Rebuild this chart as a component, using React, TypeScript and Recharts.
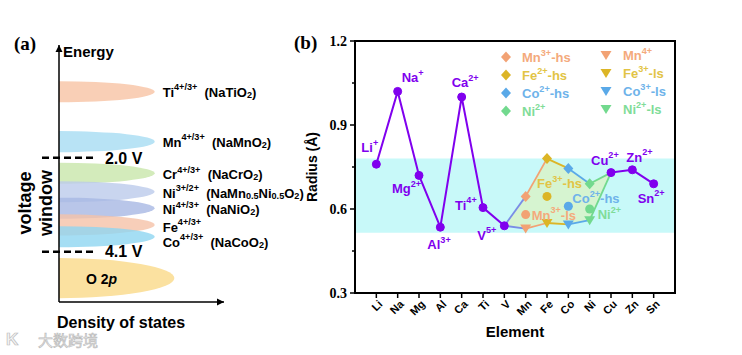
import React from "react";
import {
  Area,
  ComposedChart,
  Line,
  ReferenceArea,
  ReferenceDot,
  ReferenceLine,
  Scatter,
  XAxis,
  YAxis,
} from "recharts";

const FONT = "'Liberation Sans', Arial, Helvetica, sans-serif";
const SERIF = "'Liberation Serif', 'Times New Roman', serif";

// ---------- panel (a): schematic energy levels ----------
const bandLabels = [
  "Ti^{4+/3+}  (NaTiO_{2})",
  "Mn^{4+/3+}  (NaMnO_{2})",
  "Cr^{4+/3+}  (NaCrO_{2})",
  "Ni^{3+/2+}  (NaMn_{0.5}Ni_{0.5}O_{2})",
  "Ni^{4+/3+}  (NaNiO_{2})",
  "Fe^{4+/3+}",
  "Co^{4+/3+}  (NaCoO_{2})",
];
const bandLevels = [8.18, 6.24, 5.01, 4.29, 3.65, 3.0, 2.54];
const bandColors = ["#f7c3a4", "#a6dcf3", "#c8e6aa", "#bccaeb", "#a8b8e3", "#f5c2a8", "#8ed6f1"];
const bandLabelDy = [0, 0, 1, 1, 1, 2, 5];
const o2pLevel = 0.93;
const voltageLevels = [5.61, 1.96];
const voltageLabels = ["2.0 V", "4.1 V"];

// ---------- panel (b): ionic radius ----------
const elements = ["Li", "Na", "Mg", "Al", "Ca", "Ti", "V", "Mn", "Fe", "Co", "Ni", "Cu", "Zn", "Sn"];
const mainRadius = [0.76, 1.02, 0.72, 0.535, 1.0, 0.605, 0.54, null, null, null, null, 0.73, 0.74, 0.69];
const mainLabels = ["Li^{+}", "Na^{+}", "Mg^{2+}", "Al^{3+}", "Ca^{2+}", "Ti^{4+}", "V^{5+}", null, null, null, null, "Cu^{2+}", "Zn^{2+}", "Sn^{2+}"];

const tmElements = ["Mn", "Fe", "Co", "Ni"];
const upperRadius = [0.645, 0.78, 0.745, 0.69];
const upperNames = ["Mn^{3+}-hs", "Fe^{2+}-hs", "Co^{2+}-hs", "Ni^{2+}"];
const lowerRadius = [0.53, 0.55, 0.545, 0.56];
const lowerNames = ["Mn^{4+}", "Fe^{3+}-ls", "Co^{3+}-ls", "Ni^{2+}-ls"];
const midRadius = [0.58, 0.645, 0.61, 0.6];
const midNames = ["Mn^{3+}-ls", "Fe^{3+}-hs", "Co^{2+}-hs", "Ni^{2+}"];

const yTicks = [0.3, 0.45, 0.6, 0.75, 0.9, 1.05, 1.2];
const yMajor = [0.3, 0.6, 0.9, 1.2];
const windowBand = [0.515, 0.78];

const PURPLE = "#8000ee";
const tmColors = ["#f2a274", "#dcb526", "#5aa9e8", "#72d98e"];
const tmText = ["#f4aa7c", "#e2c445", "#6eb3ea", "#80dc98"];
const segColors = ["#7a8de6", ...tmColors];

// label offsets (px) relative to their point
const mainLabelOffsets: Record<string, [number, number]> = {
  Li: [-15, -17], Na: [4, -14], Mg: [-27, 13], Al: [-13, 17], Ca: [-10, -15],
  Ti: [-28, -3], V: [-27, 9], Cu: [-20, -13], Zn: [-6, -13], Sn: [-16, 14],
};
const midLabelOffsets: [number, number][] = [[6, 0], [-10, -13], [4, -8], [8, 5]];

const xOf = (el: string) => elements.indexOf(el) + 1;

// table for the line chart
const rows: any[] = elements.map((el, i) => ({ x: i + 1, main: mainRadius[i] }));
const vNode = { x: xOf("V"), y: mainRadius[6] };
const cuNode = { x: xOf("Cu"), y: mainRadius[11] };
const upperNodes = [vNode, ...tmElements.map((el, k) => ({ x: xOf(el), y: upperRadius[k] })), cuNode];
const lowerNodes = [vNode, ...tmElements.map((el, k) => ({ x: xOf(el), y: lowerRadius[k] })), cuNode];
for (let k = 0; k < upperNodes.length - 1; k++) {
  rows[upperNodes[k].x - 1]["up" + k] = upperNodes[k].y;
  rows[upperNodes[k + 1].x - 1]["up" + k] = upperNodes[k + 1].y;
  rows[lowerNodes[k].x - 1]["lo" + k] = lowerNodes[k].y;
  rows[lowerNodes[k + 1].x - 1]["lo" + k] = lowerNodes[k + 1].y;
}
upperNodes.forEach((n, j) => {
  rows[n.x - 1].poly = [lowerNodes[j].y, n.y];
});

const upperPts = tmElements.map((el, k) => ({ x: xOf(el), y: upperRadius[k], k }));
const lowerPts = tmElements.map((el, k) => ({ x: xOf(el), y: lowerRadius[k], k }));
const midPts = tmElements.map((el, k) => ({ x: xOf(el), y: midRadius[k], k }));
const mainLabelPts = elements
  .map((el, i) => ({ x: i + 1, y: mainRadius[i], text: mainLabels[i], el }))
  .filter((p) => p.y != null);

function rich(text: string, size: number) {
  const parts: { s: string; m: number }[] = [];
  const re = /\^\{([^}]*)\}|_\{([^}]*)\}|([^^_]+)/g;
  let m: RegExpExecArray | null;
  while ((m = re.exec(text))) {
    if (m[1] != null) parts.push({ s: m[1], m: 1 });
    else if (m[2] != null) parts.push({ s: m[2], m: -1 });
    else parts.push({ s: m[3], m: 0 });
  }
  let cur = 0;
  return parts.map((p, i) => {
    const target = p.m === 1 ? -size * 0.34 : p.m === -1 ? size * 0.24 : 0;
    const dy = target - cur;
    cur = target;
    return (
      <tspan key={i} dy={dy} fontSize={p.m ? size * 0.7 : size}>
        {p.s}
      </tspan>
    );
  });
}

function RichText({ x, y, text, size = 13, fill = "#000", anchor = "start" }: any) {
  return (
    <text
      x={x}
      y={y}
      fill={fill}
      fontFamily={FONT}
      fontWeight="bold"
      fontSize={size}
      textAnchor={anchor}
      dominantBaseline="central"
      style={{ whiteSpace: "pre" }}
    >
      {rich(text, size)}
    </text>
  );
}

function marker(kind: string, cx: number, cy: number, color: string) {
  if (kind === "diamond")
    return <polygon points={`${cx},${cy - 5.5} ${cx + 5},${cy} ${cx},${cy + 5.5} ${cx - 5},${cy}`} fill={color} />;
  if (kind === "tri")
    return <polygon points={`${cx - 5.5},${cy - 4} ${cx + 5.5},${cy - 4} ${cx},${cy + 5}`} fill={color} />;
  return <circle cx={cx} cy={cy} r={4.5} fill={color} />;
}

const bandPts = bandLevels.map((y) => ({ x: 0, y }));

function PanelA() {
  return (
    <ComposedChart
      width={330}
      height={355}
      data={bandPts}
      margin={{ top: 45, right: 106, bottom: 52, left: 58 }}
    >
      <XAxis type="number" dataKey="x" domain={[0, 10]} height={1} tick={false} tickLine={false}
        axisLine={{ stroke: "#000", strokeWidth: 1.5 }} />
      <YAxis type="number" domain={[0, 10]} width={1} tick={false} tickLine={false}
        axisLine={{ stroke: "#000", strokeWidth: 1.5 }} />
      <Scatter data={bandPts} dataKey="y" isAnimationActive={false} shape={() => <g />} />
      {bandLevels.map((lv, i) => (
        <ReferenceArea
          key={i}
          x1={0}
          x2={5.8}
          y1={lv - 0.41}
          y2={lv + 0.41}
          ifOverflow="visible"
          shape={(p: any) => (
            <g>
              <path
                d={`M${p.x},${p.y} A${p.width},${p.height / 2} 0 0 1 ${p.x},${p.y + p.height} Z`}
                fill={bandColors[i]}
                fillOpacity={0.8}
              />
              <RichText x={p.x + p.width + 8} y={p.y + p.height / 2 + bandLabelDy[i]} text={bandLabels[i]} size={13} />
            </g>
          )}
        />
      ))}
      <ReferenceArea
        x1={0}
        x2={7}
        y1={o2pLevel - 0.78}
        y2={o2pLevel + 0.78}
        ifOverflow="visible"
        shape={(p: any) => (
          <g>
            <path
              d={`M${p.x},${p.y} A${p.width},${p.height / 2} 0 0 1 ${p.x},${p.y + p.height} Z`}
              fill="#fbe1a0"
            />
            <text x={p.x + 27} y={p.y + p.height / 2 + 1} fontFamily={FONT} fontWeight="bold" fontSize={14}
              dominantBaseline="central" style={{ whiteSpace: "pre" }}>
              O 2<tspan fontStyle="italic">p</tspan>
            </text>
          </g>
        )}
      />
      {voltageLevels.map((lv, i) => (
        <ReferenceLine
          key={i}
          segment={[{ x: -1.03, y: lv }, { x: 2.3, y: lv }]}
          stroke="#000"
          strokeWidth={2.5}
          strokeDasharray="7 4"
          ifOverflow="visible"
          label={{ value: voltageLabels[i], position: "right", offset: 8, fill: "#000", fontSize: 16, fontWeight: "bold", fontFamily: FONT }}
        />
      ))}
      <ReferenceDot x={0} y={10} r={0} ifOverflow="visible"
        shape={(p: any) => <path d={`M${p.cx - 3.5},${p.cy + 7} L${p.cx},${p.cy} L${p.cx + 3.5},${p.cy + 7}Z`} fill="#000" />} />
      <ReferenceDot x={10} y={0} r={0} ifOverflow="visible"
        shape={(p: any) => <path d={`M${p.cx - 7},${p.cy - 3.5} L${p.cx},${p.cy} L${p.cx - 7},${p.cy + 3.5}Z`} fill="#000" />} />
    </ComposedChart>
  );
}

const XTick = ({ x, y, payload }: any) => (
  <text
    x={x + 4}
    y={y + 4}
    transform={`rotate(-45 ${x + 4} ${y + 4})`}
    textAnchor="end"
    dominantBaseline="central"
    fontFamily={FONT}
    fontWeight="bold"
    fontSize={11}
    fill="#000"
  >
    {elements[payload.value - 1]}
  </text>
);

const YTick = ({ x, y, payload }: any) => {
  const major = yMajor.some((v) => Math.abs(v - payload.value) < 1e-6);
  return (
    <g>
      <line x1={x} x2={x - (major ? 5 : 3)} y1={y} y2={y} stroke="#000" strokeWidth={1.5} />
      {major && (
        <text x={x - 8} y={y} textAnchor="end" dominantBaseline="central" fontFamily={SERIF}
          fontWeight="bold" fontSize={14} fill="#000">
          {payload.value.toFixed(1)}
        </text>
      )}
    </g>
  );
};

function PanelB() {
  return (
    <ComposedChart width={452} height={355} data={rows} margin={{ top: 41, right: 67, bottom: 32, left: 25 }}>
      <ReferenceArea x1={0} x2={15} y1={windowBand[0]} y2={windowBand[1]} fill="#c8f9f9" fillOpacity={1} stroke="none" />
      <XAxis type="number" dataKey="x" domain={[0, 15]} ticks={elements.map((_, i) => i + 1)} interval={0}
        height={30} tickSize={5} tickMargin={0} tick={<XTick />}
        tickLine={{ stroke: "#000", strokeWidth: 1.5 }} axisLine={{ stroke: "#000", strokeWidth: 2 }} />
      <YAxis type="number" domain={[0.3, 1.2]} ticks={yTicks} interval={0} width={40} tickSize={0} tickMargin={0}
        tickLine={false} tick={<YTick />} axisLine={{ stroke: "#000", strokeWidth: 2 }} />
      <Area dataKey="poly" fill="#dff0b4" fillOpacity={0.6} stroke="none" isAnimationActive={false} connectNulls={false} />
      {segColors.map((c, k) => (
        <Line key={"u" + k} dataKey={"up" + k} stroke={c} strokeWidth={1.8} dot={false} isAnimationActive={false} connectNulls={false} />
      ))}
      {segColors.map((c, k) => (
        <Line key={"l" + k} dataKey={"lo" + k} stroke={c} strokeWidth={1.8} dot={false} isAnimationActive={false} connectNulls={false} />
      ))}
      <Line dataKey="main" stroke={PURPLE} strokeWidth={2} isAnimationActive={false} connectNulls={false}
        dot={{ r: 4, fill: PURPLE, stroke: PURPLE, strokeWidth: 1 }} />
      <Scatter data={upperPts} dataKey="y" isAnimationActive={false}
        shape={(p: any) => marker("diamond", p.cx, p.cy, tmColors[p.payload.k])} />
      <Scatter data={lowerPts} dataKey="y" isAnimationActive={false}
        shape={(p: any) => marker("tri", p.cx, p.cy, tmColors[p.payload.k])} />
      <Scatter data={midPts} dataKey="y" isAnimationActive={false}
        shape={(p: any) => marker("circle", p.cx, p.cy, tmColors[p.payload.k])} />
      <Scatter data={mainLabelPts} dataKey="y" isAnimationActive={false}
        shape={(p: any) => {
          const o = mainLabelOffsets[p.payload.el];
          return <RichText x={p.cx + o[0]} y={p.cy + o[1]} text={p.payload.text} fill={PURPLE} />;
        }} />
      <Scatter data={midPts} dataKey="y" isAnimationActive={false}
        shape={(p: any) => {
          const o = midLabelOffsets[p.payload.k];
          return <RichText x={p.cx + o[0]} y={p.cy + o[1]} text={midNames[p.payload.k]} fill={tmText[p.payload.k]} />;
        }} />
      <ReferenceArea x1={0} x2={15} y1={0.3} y2={1.2} fill="none" fillOpacity={0} stroke="#000" strokeWidth={2} />
    </ComposedChart>
  );
}

function Overlay() {
  return (
    <svg width={742} height={355} style={{ position: "absolute", left: 0, top: 0, pointerEvents: "none" }}>
      <text x={14} y={43} fontFamily={SERIF} fontWeight="bold" fontSize={19} dominantBaseline="central">(a)</text>
      <text x={294} y={42} fontFamily={SERIF} fontWeight="bold" fontSize={19} dominantBaseline="central">(b)</text>
      <text x={63} y={51} fontFamily={FONT} fontWeight="bold" fontSize={15} dominantBaseline="central">Energy</text>
      <text x={57} y={322} fontFamily={FONT} fontWeight="bold" fontSize={16} dominantBaseline="central">Density of states</text>
      <text transform="translate(25 203) rotate(-90)" textAnchor="middle" fontFamily={FONT} fontWeight="bold"
        fontSize={18} dominantBaseline="central">voltage</text>
      <text transform="translate(46 203) rotate(-90)" textAnchor="middle" fontFamily={FONT} fontWeight="bold"
        fontSize={18} dominantBaseline="central">window</text>
      <text transform="translate(312 167) rotate(-90)" textAnchor="middle" fontFamily={FONT} fontWeight="bold"
        fontSize={14} dominantBaseline="central">Radius (Å)</text>
      <text x={515} y={331} textAnchor="middle" fontFamily={FONT} fontWeight="bold" fontSize={15}
        dominantBaseline="central">Element</text>
      {upperNames.map((n, i) => (
        <g key={"lu" + i}>
          {marker("diamond", 506, 57 + 18 * i, tmColors[i])}
          <RichText x={522} y={57 + 18 * i} text={n} fill={tmText[i]} />
        </g>
      ))}
      {lowerNames.map((n, i) => (
        <g key={"ll" + i}>
          {marker("tri", 606, 55 + 18 * i, tmColors[i])}
          <RichText x={623} y={55 + 18 * i} text={n} fill={tmText[i]} />
        </g>
      ))}
      <text x={6} y={339} fontFamily={FONT} fontWeight="bold" fontSize={17} fill="#f4f4f4" stroke="#bdbdbd"
        strokeWidth={0.7} dominantBaseline="central">K</text>
      <text x={38} y={339} fontFamily="'Noto Sans CJK SC', sans-serif" fontSize={15} fill="#f4f4f4" stroke="#bdbdbd"
        strokeWidth={0.7} dominantBaseline="central">大数跨境</text>
    </svg>
  );
}

export default function App() {
  return (
    <div style={{ position: "relative", width: 742, height: 355, background: "#fff", overflow: "hidden" }}>
      <style>{`body{margin:0}`}</style>
      <div style={{ position: "absolute", left: 0, top: 0 }}>
        <PanelA />
      </div>
      <div style={{ position: "absolute", left: 290, top: 0 }}>
        <PanelB />
      </div>
      <Overlay />
    </div>
  );
}
